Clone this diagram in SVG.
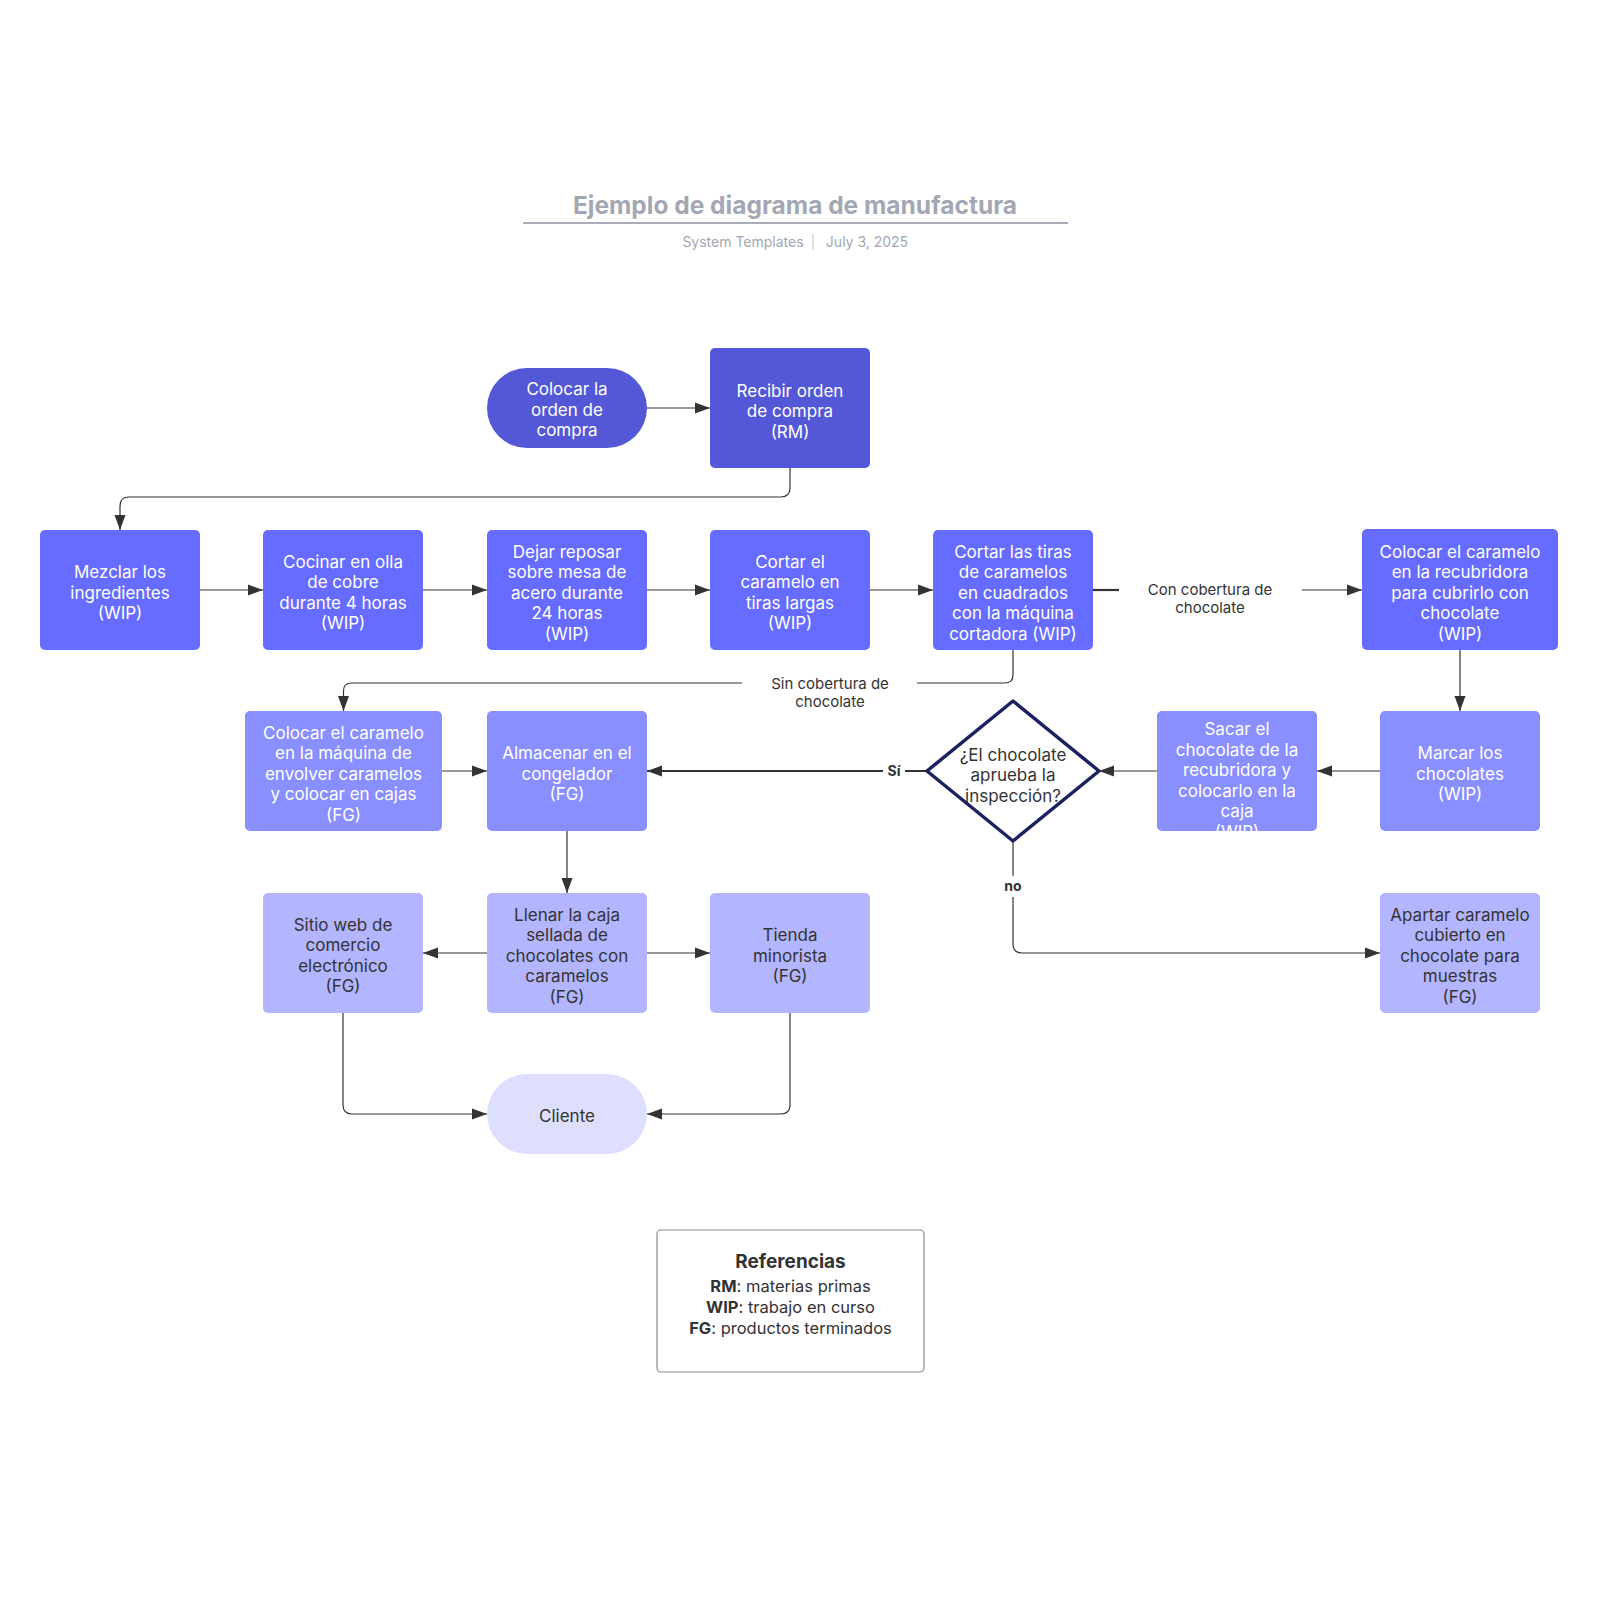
<svg xmlns="http://www.w3.org/2000/svg" width="1600" height="1600" viewBox="0 0 1600 1600">
<style>
text{font-family:Inter,"Noto Sans","Liberation Sans",sans-serif}
.n{font-size:17px;fill:#ffffff;text-anchor:middle}
.d{font-size:17px;fill:#333333;text-anchor:middle}
.c1{fill:#5558d6}
.c2{fill:#666cff}
.c3{fill:#8a8fff}
.c4{fill:#b3b5ff}
.c5{fill:#dedfff}
.ln{fill:none;stroke:#333333;stroke-width:1.2}
.lb{font-size:15px;fill:#333333;text-anchor:middle}
.bl{font-size:14px;font-weight:700;fill:#333333;text-anchor:middle}
</style>
<defs>
<marker id="ar" markerUnits="userSpaceOnUse" markerWidth="16" markerHeight="12" refX="15" refY="6" orient="auto">
<path d="M0,0.5 L15,6 L0,11.5 z" fill="#333333"/>
</marker>
<clipPath id="clipSacar"><rect x="1157" y="711" width="160" height="120" rx="5"/></clipPath>
</defs>
<rect width="1600" height="1600" fill="#ffffff"/>

<g id="title">
<text x="795" y="214" style="font-size:24.5px;font-weight:700;fill:#a3a7b3;text-anchor:middle">Ejemplo de diagrama de manufactura</text>
<line x1="523" y1="223" x2="1068" y2="223" stroke="#a9adb8" stroke-width="2"/>
<text x="743" y="247" style="font-size:14px;fill:#a3a7b3;text-anchor:middle">System Templates</text>
<line x1="813" y1="234" x2="813" y2="250" stroke="#c0c3cb" stroke-width="1"/>
<text x="867" y="247" style="font-size:14px;fill:#a3a7b3;text-anchor:middle">July 3, 2025</text>
</g>

<g id="connectors">
<path class="ln" d="M647,408 H710" marker-end="url(#ar)"/>
<path class="ln" d="M790,468 V488 Q790,497 781,497 H129 Q120,497 120,506 V530" marker-end="url(#ar)"/>
<path class="ln" d="M200,590 H263" marker-end="url(#ar)"/>
<path class="ln" d="M423,590 H487" marker-end="url(#ar)"/>
<path class="ln" d="M647,590 H710" marker-end="url(#ar)"/>
<path class="ln" d="M870,590 H933" marker-end="url(#ar)"/>
<path class="ln" d="M1093,590 H1119" style="stroke-width:2.2"/>
<path class="ln" d="M1302,590 H1362" marker-end="url(#ar)"/>
<text class="lb" x="1210" y="595">Con cobertura de</text>
<text class="lb" x="1210" y="613">chocolate</text>
<path class="ln" d="M1013,650 V675 Q1013,683 1005,683 H917"/>
<path class="ln" d="M742,683 H351.5 Q343.5,683 343.5,691 V711" marker-end="url(#ar)"/>
<text class="lb" x="830" y="689">Sin cobertura de</text>
<text class="lb" x="830" y="707">chocolate</text>
<path class="ln" d="M1460,650 V711" marker-end="url(#ar)"/>
<path class="ln" d="M1380,771 H1317" marker-end="url(#ar)"/>
<path class="ln" d="M1157,771 H1099" marker-end="url(#ar)"/>
<path class="ln" d="M927,771 H647" style="stroke-width:2.2" marker-end="url(#ar)"/>
<rect x="883" y="762" width="22" height="18" fill="#ffffff"/>
<text class="bl" x="894" y="776">Sí</text>
<path class="ln" d="M442,771 H487" marker-end="url(#ar)"/>
<path class="ln" d="M567,831 V893" marker-end="url(#ar)"/>
<path class="ln" d="M487,953 H423" marker-end="url(#ar)"/>
<path class="ln" d="M647,953 H710" marker-end="url(#ar)"/>
<path class="ln" d="M343,1013 V1105 Q343,1114 352,1114 H487" marker-end="url(#ar)"/>
<path class="ln" d="M790,1013 V1105 Q790,1114 781,1114 H647" marker-end="url(#ar)"/>
<path class="ln" d="M1013,842 V876"/>
<path class="ln" d="M1013,897 V944 Q1013,953 1022,953 H1380" marker-end="url(#ar)"/>
<text class="bl" x="1013" y="891">no</text>
</g>

<g id="n-colocar-orden">
<rect class="c1" x="487" y="368" width="160" height="80" rx="40"/>
<text class="n" x="567" y="395">Colocar la</text>
<text class="n" x="567" y="415.5">orden de</text>
<text class="n" x="567" y="436">compra</text>
</g>
<g id="n-recibir">
<rect class="c1" x="710" y="348" width="160" height="120" rx="5"/>
<text class="n" x="790" y="396.5">Recibir orden</text>
<text class="n" x="790" y="417">de compra</text>
<text class="n" x="790" y="437.5">(RM)</text>
</g>

<g id="n-mezclar">
<rect class="c2" x="40" y="530" width="160" height="120" rx="5"/>
<text class="n" x="120" y="578">Mezclar los</text>
<text class="n" x="120" y="598.5">ingredientes</text>
<text class="n" x="120" y="619">(WIP)</text>
</g>
<g id="n-cocinar">
<rect class="c2" x="263" y="530" width="160" height="120" rx="5"/>
<text class="n" x="343" y="567.75">Cocinar en olla</text>
<text class="n" x="343" y="588.25">de cobre</text>
<text class="n" x="343" y="608.75">durante 4 horas</text>
<text class="n" x="343" y="629.25">(WIP)</text>
</g>
<g id="n-dejar">
<rect class="c2" x="487" y="530" width="160" height="120" rx="5"/>
<text class="n" x="567" y="557.5">Dejar reposar</text>
<text class="n" x="567" y="578">sobre mesa de</text>
<text class="n" x="567" y="598.5">acero durante</text>
<text class="n" x="567" y="619">24 horas</text>
<text class="n" x="567" y="639.5">(WIP)</text>
</g>
<g id="n-cortar">
<rect class="c2" x="710" y="530" width="160" height="120" rx="5"/>
<text class="n" x="790" y="567.75">Cortar el</text>
<text class="n" x="790" y="588.25">caramelo en</text>
<text class="n" x="790" y="608.75">tiras largas</text>
<text class="n" x="790" y="629.25">(WIP)</text>
</g>
<g id="n-cortar-tiras">
<rect class="c2" x="933" y="530" width="160" height="120" rx="5"/>
<text class="n" x="1013" y="557.5">Cortar las tiras</text>
<text class="n" x="1013" y="578">de caramelos</text>
<text class="n" x="1013" y="598.5">en cuadrados</text>
<text class="n" x="1013" y="619">con la máquina</text>
<text class="n" x="1013" y="639.5">cortadora (WIP)</text>
</g>
<g id="n-recubridora">
<rect class="c2" x="1362" y="529" width="196" height="121" rx="5"/>
<text class="n" x="1460" y="557.5">Colocar el caramelo</text>
<text class="n" x="1460" y="578">en la recubridora</text>
<text class="n" x="1460" y="598.5">para cubrirlo con</text>
<text class="n" x="1460" y="619">chocolate</text>
<text class="n" x="1460" y="639.5">(WIP)</text>
</g>

<g id="n-envolver">
<rect class="c3" x="245" y="711" width="197" height="120" rx="5"/>
<text class="n" x="343.5" y="738.5">Colocar el caramelo</text>
<text class="n" x="343.5" y="759">en la máquina de</text>
<text class="n" x="343.5" y="779.5">envolver caramelos</text>
<text class="n" x="343.5" y="800">y colocar en cajas</text>
<text class="n" x="343.5" y="820.5">(FG)</text>
</g>
<g id="n-almacenar">
<rect class="c3" x="487" y="711" width="160" height="120" rx="5"/>
<text class="n" x="567" y="759">Almacenar en el</text>
<text class="n" x="567" y="779.5">congelador</text>
<text class="n" x="567" y="800">(FG)</text>
</g>
<g id="n-inspeccion">
<path d="M1013,701 L1099,771 L1013,841 L927,771 Z" fill="#ffffff" stroke="#1c2260" stroke-width="3.5" stroke-linejoin="round"/>
<text class="d" x="1013" y="760.5">¿El chocolate</text>
<text class="d" x="1013" y="781">aprueba la</text>
<text class="d" x="1013" y="801.5">inspección?</text>
</g>
<g id="n-sacar">
<rect class="c3" x="1157" y="711" width="160" height="120" rx="5"/>
<g clip-path="url(#clipSacar)">
<text class="n" x="1237" y="735">Sacar el</text>
<text class="n" x="1237" y="755.5">chocolate de la</text>
<text class="n" x="1237" y="776">recubridora y</text>
<text class="n" x="1237" y="796.5">colocarlo en la</text>
<text class="n" x="1237" y="817">caja</text>
<text class="n" x="1237" y="837.5">(WIP)</text>
</g>
</g>
<g id="n-marcar">
<rect class="c3" x="1380" y="711" width="160" height="120" rx="5"/>
<text class="n" x="1460" y="759">Marcar los</text>
<text class="n" x="1460" y="779.5">chocolates</text>
<text class="n" x="1460" y="800">(WIP)</text>
</g>

<g id="n-sitio">
<rect class="c4" x="263" y="893" width="160" height="120" rx="5"/>
<text class="d" x="343" y="930.75">Sitio web de</text>
<text class="d" x="343" y="951.25">comercio</text>
<text class="d" x="343" y="971.75">electrónico</text>
<text class="d" x="343" y="992.25">(FG)</text>
</g>
<g id="n-llenar">
<rect class="c4" x="487" y="893" width="160" height="120" rx="5"/>
<text class="d" x="567" y="920.5">Llenar la caja</text>
<text class="d" x="567" y="941">sellada de</text>
<text class="d" x="567" y="961.5">chocolates con</text>
<text class="d" x="567" y="982">caramelos</text>
<text class="d" x="567" y="1002.5">(FG)</text>
</g>
<g id="n-tienda">
<rect class="c4" x="710" y="893" width="160" height="120" rx="5"/>
<text class="d" x="790" y="941">Tienda</text>
<text class="d" x="790" y="961.5">minorista</text>
<text class="d" x="790" y="982">(FG)</text>
</g>
<g id="n-apartar">
<rect class="c4" x="1380" y="893" width="160" height="120" rx="5"/>
<text class="d" x="1460" y="920.5">Apartar caramelo</text>
<text class="d" x="1460" y="941">cubierto en</text>
<text class="d" x="1460" y="961.5">chocolate para</text>
<text class="d" x="1460" y="982">muestras</text>
<text class="d" x="1460" y="1002.5">(FG)</text>
</g>
<g id="n-cliente">
<rect class="c5" x="487" y="1074" width="160" height="80" rx="40"/>
<text class="d" x="567" y="1122">Cliente</text>
</g>

<g id="legend">
<rect x="657" y="1230" width="267" height="142" rx="4" fill="#ffffff" stroke="#8a8a8a" stroke-width="1.2"/>
<text x="790.5" y="1268" style="font-size:19px;font-weight:700;fill:#333333;text-anchor:middle">Referencias</text>
<text x="790.5" y="1292" style="font-size:16.5px;fill:#333333;text-anchor:middle"><tspan font-weight="700">RM</tspan>: materias primas</text>
<text x="790.5" y="1313" style="font-size:16.5px;fill:#333333;text-anchor:middle"><tspan font-weight="700">WIP</tspan>: trabajo en curso</text>
<text x="790.5" y="1334" style="font-size:16.5px;fill:#333333;text-anchor:middle"><tspan font-weight="700">FG</tspan>: productos terminados</text>
</g>
</svg>
